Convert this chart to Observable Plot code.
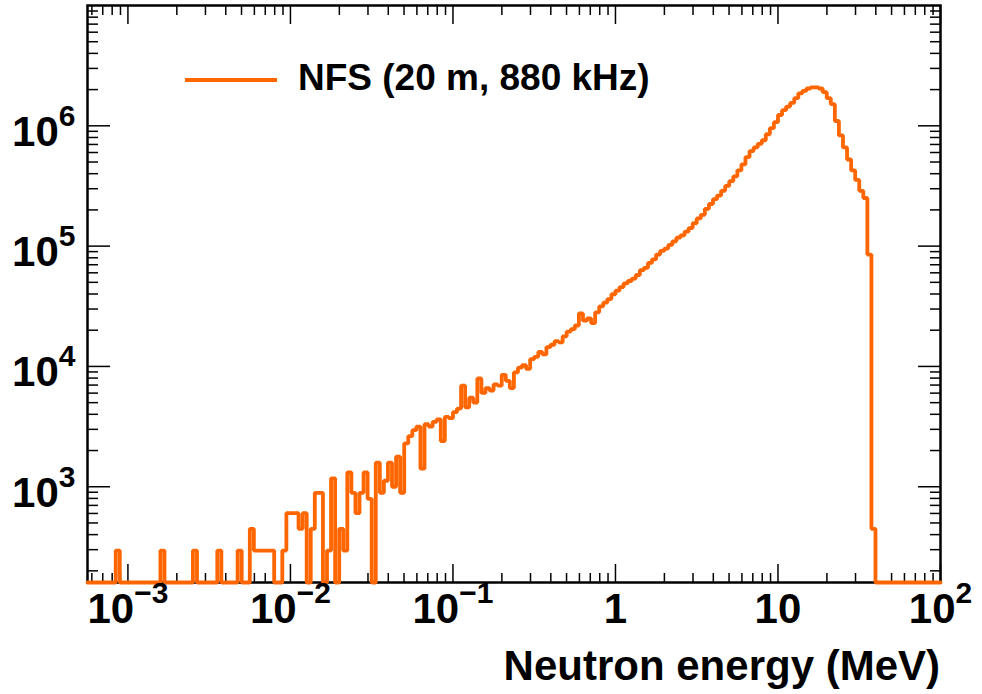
<!DOCTYPE html>
<html><head><meta charset="utf-8">
<script src="https://cdn.jsdelivr.net/npm/d3@7"></script>
<script src="https://cdn.jsdelivr.net/npm/@observablehq/plot@0.6"></script>
<style>
html,body{margin:0;padding:0;background:#fff;}
#chart{width:982px;height:694px;position:relative;}
</style>
</head><body><div id="chart"></div>
<script>
// Histogram binning (log-uniform bins, as in the source histogram)
const logEmin = -3.25;
const binsPerDecade = 40;
// Bin contents (0 = empty bin)
const counts = [
  0,0,0,0,0,0,0,295,0,0,
  0,0,0,0,0,0,0,0,295,0,
  0,0,0,0,0,0,295,0,0,0,
  0,0,295,0,0,0,0,295,0,0,
  447,295,295,295,295,295,0,0,295,603,
  603,603,447,603,0,447,891,891,0,295,
  1175,0,447,295,1318,891,603,891,1318,794,
  0,1585,891,1122,1585,1000,1778,891,2291,2630,
  2951,3162,1413,3311,3162,3467,3631,2399,3802,3715,
  4169,4467,6918,4571,5495,5012,7943,6026,6607,6310,
  7079,6918,8511,7586,6607,8913,9772,10230,9550,11480,
  12020,13180,12590,14450,15140,16220,15850,17780,19500,20420,
  21880,27540,23990,25120,22910,28180,31620,33880,36310,39810,
  42660,45710,48980,51290,53700,57540,63100,66070,72440,77620,
  85110,91200,95500,102300,109600,117500,123000,131800,141300,154900,
  169800,182000,204200,223900,245500,263000,288400,316200,346700,380200,
  426600,478600,549500,616600,660700,707900,758600,851100,955000,1072000,
  1230000,1349000,1445000,1549000,1698000,1862000,1950000,2042000,2089000,2089000,
  2042000,1905000,1698000,1514000,1096000,832000,660700,524800,426600,354800,
  288400,251200,85000,447,0,0,0,0,0,0,
  0,0,0,0,0,0,0,0,0,0
];
const xDomain = [5.64e-4, 100];
const yDomain = [160, 1e7];
const xTickValues = [1e-3, 1e-2, 1e-1, 1, 10, 100];
const xTickLabels = ["10^-3", "10^-2", "10^-1", "1", "10", "10^2"];
const yTickValues = [1e3, 1e4, 1e5, 1e6];
const yTickLabels = ["10^3", "10^4", "10^5", "10^6"];
const minorMultipliers = [2, 3, 4, 5, 6, 7, 8, 9];
const xDecades = [1e-4, 1e-3, 1e-2, 1e-1, 1, 10];
const yDecades = [1e2, 1e3, 1e4, 1e5, 1e6];
const legendLabel = "NFS (20 m, 880 kHz)";
const xTitle = "Neutron energy (MeV)";
const lineColor = "#ff6600";

const xMinor = xDecades.flatMap(p => minorMultipliers.map(m => m * p)).filter(v => v > xDomain[0] && v < xDomain[1]);
const yMinor = yDecades.flatMap(p => minorMultipliers.map(m => m * p)).filter(v => v > yDomain[0] && v < yDomain[1]);

const steps = counts.flatMap((c, k) => {
  const lo = Math.max(xDomain[0], Math.pow(10, logEmin + k / binsPerDecade));
  const hi = Math.pow(10, logEmin + (k + 1) / binsPerDecade);
  const v = Math.max(c, yDomain[0]);
  return [{E: lo, v}, {E: hi, v}];
});

const font = "'Liberation Sans', Arial, Helvetica, sans-serif";
const noText = () => "";
const tickOpts = {tickFormat: noText, label: null, strokeWidth: 1.5};

const plot = Plot.plot({
  width: 982, height: 694,
  marginLeft: 87, marginRight: 42, marginTop: 5, marginBottom: 112,
  x: {type: "log", domain: xDomain},
  y: {type: "log", domain: yDomain},
  style: {fontFamily: font, fontWeight: "bold", fontSize: "42px", color: "black", background: "white"},
  marks: [
    Plot.axisX({anchor: "bottom", ticks: xTickValues, tickSize: -18, ...tickOpts}),
    Plot.axisX({anchor: "bottom", ticks: xMinor, tickSize: -9, ...tickOpts}),
    Plot.axisX({anchor: "top", ticks: xTickValues, tickSize: -18, ...tickOpts}),
    Plot.axisX({anchor: "top", ticks: xMinor, tickSize: -9, ...tickOpts}),
    Plot.axisY({anchor: "left", ticks: yTickValues, tickSize: -23, ...tickOpts}),
    Plot.axisY({anchor: "left", ticks: yMinor, tickSize: -11, ...tickOpts}),
    Plot.axisY({anchor: "right", ticks: yTickValues, tickSize: -23, ...tickOpts}),
    Plot.axisY({anchor: "right", ticks: yMinor, tickSize: -11, ...tickOpts}),
    Plot.frame({stroke: "black", strokeWidth: 2.5}),
    Plot.line(steps, {x: "E", y: "v", stroke: lineColor, strokeWidth: 3.8, strokeLinejoin: "miter"}),
    Plot.text(xTickValues, {x: d => d, frameAnchor: "bottom", text: (d, i) => xTickLabels[i], dy: 40.6, fontSize: 42, fontWeight: "bold", fill: "black"}),
    Plot.text(yTickValues, {y: d => d, frameAnchor: "left", text: (d, i) => yTickLabels[i], textAnchor: "end", dx: -12, dy: 6.5, fontSize: 42, fontWeight: "bold", fill: "black"})
  ]
});

const svg = d3.select(plot);
svg.selectAll("text").each(function () {
  const t = this.textContent;
  if (t.includes("^")) {
    const [base, exp] = t.split("^");
    this.textContent = base;
    d3.select(this).append("tspan").attr("dy", -20).attr("font-size", 30).text(exp.replace("-", "\u2212"));
  }
});

// Legend
svg.append("line").attr("x1", 185).attr("x2", 277).attr("y1", 80).attr("y2", 80)
  .attr("stroke", lineColor).attr("stroke-width", 4);
svg.append("text").attr("x", 298).attr("y", 90).attr("text-anchor", "start").attr("font-family", font)
  .attr("font-weight", "bold").attr("font-size", 37).attr("fill", "black").text(legendLabel);
// Axis title
svg.append("text").attr("x", 940).attr("y", 680).attr("text-anchor", "end").attr("font-family", font)
  .attr("font-weight", "bold").attr("font-size", 42).attr("fill", "black").text(xTitle);

document.getElementById("chart").appendChild(plot);
</script>
</body></html>
